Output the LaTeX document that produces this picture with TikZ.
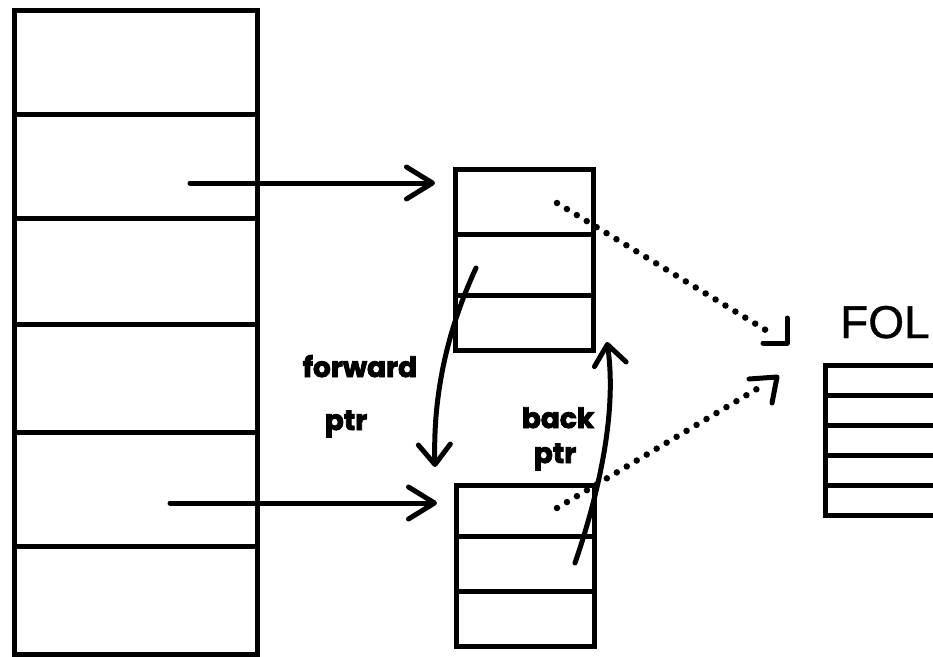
\documentclass[tikz,border=0pt]{standalone}
\usepackage{fontspec}
\usetikzlibrary{arrows.meta,calc}
\newfontfamily\folfont{Liberation Sans}[FakeBold=0.8]
\newfontfamily\ptrfont{Poppins}[BoldFeatures={FakeBold=3}]
\begin{document}
\begin{tikzpicture}[x=1pt,y=-1pt,
  cell/.style={draw, line width=5pt, inner sep=0pt, anchor=north west},
  link/.style={line width=5pt, line cap=round, line join=round},
  hookarrow/.style={link, -{Straight Barb[round,length=26pt,width=32pt]}},
  curvearrow/.style={link, -{Straight Barb[round,length=20pt,width=32pt]}},
  dots/.style={line width=6.5pt, line cap=round, dash pattern=on 0pt off 11.6pt},
  barb/.style={line width=5pt, line cap=round, line join=round},
  lbl/.style={font=\ptrfont\bfseries\fontsize{28}{31}\selectfont, inner sep=0pt, anchor=base},
]
\clip (0,0) rectangle (933,656);
\fill[white] (0,0) rectangle (933,656);

% main table on the left
\node[cell, minimum width=243pt, minimum height=104pt] (L1) at (12,8) {};
\node[cell, minimum width=243pt, minimum height=104pt] (L2) at (12,112) {};
\node[cell, minimum width=243pt, minimum height=106pt] (L3) at (12,216) {};
\node[cell, minimum width=243pt, minimum height=108pt] (L4) at (12,322) {};
\node[cell, minimum width=243pt, minimum height=114pt] (L5) at (12,430) {};
\node[cell, minimum width=243pt, minimum height=108pt] (L6) at (12,544) {};

% upper record
\node[cell, minimum width=138pt, minimum height=65pt] (T1) at (453,167) {};
\node[cell, minimum width=138pt, minimum height=61pt] (T2) at (453,232) {};
\node[cell, minimum width=138pt, minimum height=55pt] (T3) at (453,293) {};

% lower record
\node[cell, minimum width=138pt, minimum height=51pt] (B1) at (454,483) {};
\node[cell, minimum width=138pt, minimum height=55pt] (B2) at (454,534) {};
\node[cell, minimum width=138pt, minimum height=55pt] (B3) at (454,589) {};

% FOL table, running off the right edge
\node[cell, minimum width=130pt, minimum height=30pt] (F1) at (823,363) {};
\node[cell, minimum width=130pt, minimum height=30pt] (F2) at (823,393) {};
\node[cell, minimum width=130pt, minimum height=30pt] (F3) at (823,423) {};
\node[cell, minimum width=130pt, minimum height=30pt] (F4) at (823,453) {};
\node[cell, minimum width=130pt, minimum height=30pt] (F5) at (823,483) {};
\node[font=\folfont\fontsize{46}{50}\selectfont, inner sep=0pt, anchor=base west] (fol) at (840,338) {FOL};

% pointer origins and tips
\coordinate (s1) at (190,183);
\coordinate (s2) at (170,503);
\coordinate (fs) at (476,268);
\coordinate (fe) at (435,467);
\coordinate (bs) at (575,563);
\coordinate (be) at (607,342);
\coordinate (d1s) at (557,203);
\coordinate (d1t) at (787,343);
\coordinate (d2s) at (557,508);
\coordinate (d2t) at (777,377);

% table entries pointing at the records
\draw[hookarrow] (s1) -- ([xshift=-18pt]T1.west |- s1);
\draw[hookarrow] (s2) -- ([xshift=-17pt]B1.west |- s2);

% forward and back pointers
\draw[curvearrow] (fs) .. controls (445,335) and (433,400) .. (fe);
\draw[curvearrow] (bs) .. controls (600,490) and (617,410) .. (be);

% dotted links to FOL
\draw[dots] (d1s) -- ($(d1s)!0.93!(d1t)$);
\draw[barb] ($(d1t)+(-24,0)$) -- (d1t) -- ++(0,-25);
\draw[dots] (d2s) -- ($(d2s)!0.93!(d2t)$);
\draw[barb] ($(d2t)+(-28,2)$) -- (d2t) -- ++(-5,26);

% labels
\node[lbl] (fw) at (360,377) {forward};
\node[lbl] (fp) at (346,430) {ptr};
\node[lbl] (bk) at (558,428) {back};
\node[lbl] (bp) at (555,463) {ptr};
\end{tikzpicture}
\end{document}
